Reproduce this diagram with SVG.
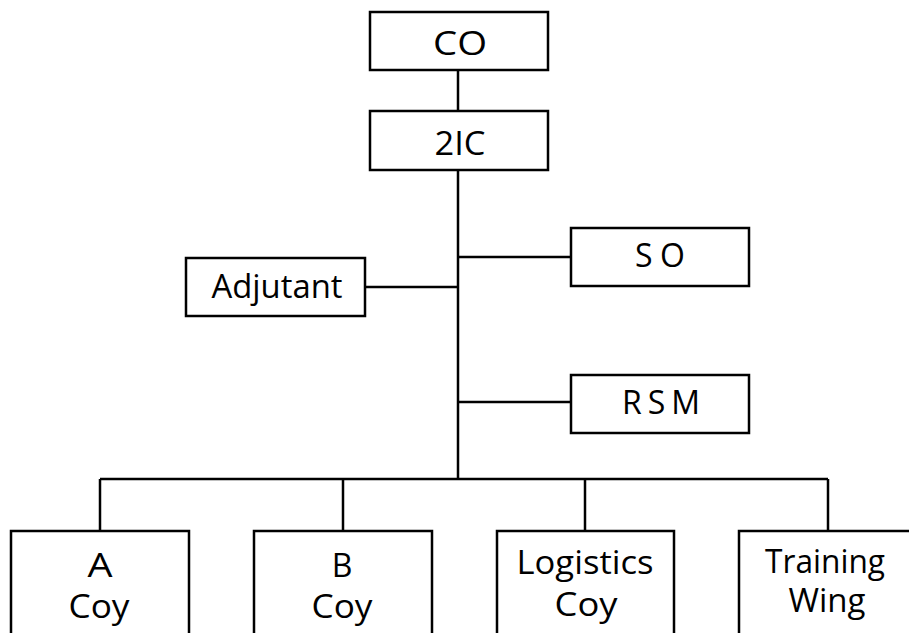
<svg xmlns="http://www.w3.org/2000/svg" width="909" height="633" viewBox="0 0 909 633">
<style>
.box{fill:#fff;stroke:#000;stroke-width:2.5}
.ln{stroke:#000;stroke-width:2.5;fill:none}
text{font-family:"Open Sans","DejaVu Sans",sans-serif;font-size:32px;fill:#000;text-anchor:middle}
</style>
<rect width="909" height="633" fill="#fff"/>
<g id="connectors">
<line class="ln" x1="458" y1="70" x2="458" y2="110"/>
<line class="ln" x1="458" y1="170" x2="458" y2="479"/>
<line class="ln" x1="365" y1="287" x2="458" y2="287"/>
<line class="ln" x1="458" y1="257" x2="571" y2="257"/>
<line class="ln" x1="458" y1="402" x2="571" y2="402"/>
<line class="ln" x1="100" y1="479" x2="828" y2="479"/>
<line class="ln" x1="100" y1="479" x2="100" y2="531"/>
<line class="ln" x1="343" y1="479" x2="343" y2="531"/>
<line class="ln" x1="585" y1="479" x2="585" y2="531"/>
<line class="ln" x1="828" y1="479" x2="828" y2="531"/>
</g>
<g id="co"><rect class="box" x="370" y="12" width="178" height="58"/><text x="460" y="55" textLength="54" lengthAdjust="spacingAndGlyphs">CO</text></g>
<g id="twoic"><rect class="box" x="370" y="111" width="178" height="59"/><text x="460" y="155" textLength="51" lengthAdjust="spacingAndGlyphs">2IC</text></g>
<g id="adjutant"><rect class="box" x="186" y="258" width="179" height="58"/><text x="277" y="298" textLength="131" lengthAdjust="spacingAndGlyphs">Adjutant</text></g>
<g id="so"><rect class="box" x="571" y="228" width="178" height="58"/><text x="660" y="267" font-size="30" textLength="50" lengthAdjust="spacing">SO</text></g>
<g id="rsm"><rect class="box" x="571" y="375" width="178" height="58"/><text x="661" y="414" font-size="30" textLength="78" lengthAdjust="spacing">RSM</text></g>
<g id="acoy"><rect class="box" x="11" y="531" width="178" height="120"/><text x="100" y="577" textLength="25" lengthAdjust="spacingAndGlyphs">A</text><text x="99" y="618" textLength="61" lengthAdjust="spacingAndGlyphs">Coy</text></g>
<g id="bcoy"><rect class="box" x="254" y="531" width="178" height="120"/><text x="342" y="577">B</text><text x="342" y="618" textLength="61" lengthAdjust="spacingAndGlyphs">Coy</text></g>
<g id="logcoy"><rect class="box" x="497" y="531" width="177" height="120"/><text x="585" y="574" textLength="137" lengthAdjust="spacingAndGlyphs">Logistics</text><text x="586" y="616" textLength="63" lengthAdjust="spacingAndGlyphs">Coy</text></g>
<g id="trwing"><rect class="box" x="739" y="531" width="178" height="120"/><text x="825" y="573" textLength="120" lengthAdjust="spacingAndGlyphs">Training</text><text x="827" y="612" textLength="77" lengthAdjust="spacingAndGlyphs">Wing</text></g>
</svg>
